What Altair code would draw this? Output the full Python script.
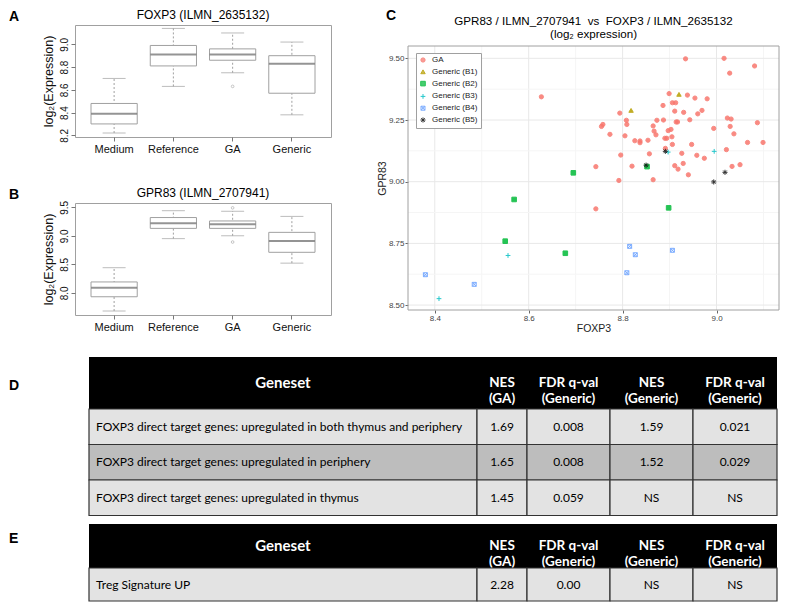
import altair as alt
import pandas as pd

FONT = "Liberation Sans"
TFONT = "Lato"

# ---------------- Panels A / B : box-plot summaries ----------------
groups = ["Medium", "Reference", "GA", "Generic"]

foxp3_lo = [8.22, 8.63, 8.75, 8.38]
foxp3_q1 = [8.30, 8.81, 8.86, 8.57]
foxp3_med = [8.39, 8.91, 8.91, 8.83]
foxp3_q3 = [8.48, 8.99, 8.96, 8.90]
foxp3_hi = [8.70, 9.14, 9.10, 9.02]
foxp3_out_group = ["GA"]
foxp3_out_value = [8.63]

gpr83_lo = [7.68, 8.95, 9.00, 8.52]
gpr83_q1 = [7.93, 9.13, 9.13, 8.71]
gpr83_med = [8.09, 9.22, 9.20, 8.91]
gpr83_q3 = [8.19, 9.32, 9.26, 9.06]
gpr83_hi = [8.44, 9.44, 9.43, 9.34]
gpr83_out_group = ["GA", "GA"]
gpr83_out_value = [9.49, 8.89]

# ---------------- Panel C : scatter ----------------
series = ["GA", "Generic (B1)", "Generic (B2)", "Generic (B3)", "Generic (B4)", "Generic (B5)"]

ga_foxp3 = [8.934, 9.016, 9.081, 9.028, 8.627, 8.899, 8.938, 8.954, 8.980, 8.906,
            8.913, 8.886, 8.969, 8.794, 8.911, 8.930, 8.960, 9.023, 9.031, 9.087,
            8.808, 8.809, 8.873, 8.887, 8.914, 8.917, 8.943, 8.758, 8.755, 8.865,
            8.994, 9.029, 8.867, 8.897, 8.903, 8.773, 8.805, 8.871, 9.037, 8.890,
            8.894, 8.905, 8.826, 8.837, 8.837, 8.854, 8.906, 8.947, 9.066, 9.099,
            8.891, 8.857, 8.796, 8.926, 8.958, 8.974, 9.021, 8.743, 8.820, 8.911,
            8.929, 8.918, 9.033, 9.050, 8.792, 8.865, 8.940, 8.743]
ga_gpr83 = [9.498, 9.500, 9.469, 9.440, 9.344, 9.357, 9.351, 9.339, 9.336, 9.320,
            9.320, 9.309, 9.289, 9.278, 9.286, 9.281, 9.275, 9.258, 9.254, 9.239,
            9.249, 9.232, 9.249, 9.250, 9.242, 9.242, 9.251, 9.232, 9.224, 9.226,
            9.216, 9.224, 9.205, 9.207, 9.212, 9.192, 9.186, 9.190, 9.194, 9.176,
            9.176, 9.182, 9.166, 9.165, 9.158, 9.168, 9.151, 9.151, 9.159, 9.159,
            9.135, 9.113, 9.108, 9.115, 9.107, 9.095, 9.130, 9.061, 9.063, 9.065,
            9.074, 9.051, 9.062, 9.069, 9.005, 9.008, 9.028, 8.890]
b1_foxp3 = [8.818, 8.920]
b1_gpr83 = [9.289, 9.354]
b2_foxp3 = [8.550, 8.569, 8.678, 8.695, 8.852, 8.898]
b2_gpr83 = [8.759, 8.928, 8.710, 9.036, 9.061, 8.894]
b3_foxp3 = [8.409, 8.556, 8.897, 8.995]
b3_gpr83 = [8.526, 8.701, 9.120, 9.123]
b4_foxp3 = [8.380, 8.484, 8.809, 8.815, 8.827, 8.906]
b4_gpr83 = [8.623, 8.584, 8.631, 8.738, 8.704, 8.722]
b5_foxp3 = [8.850, 8.891, 8.994, 9.018]
b5_gpr83 = [9.067, 9.123, 8.999, 9.038]

# axis ticks of panel C (major labelled, minor grid only)
c_x_major = [8.4, 8.6, 8.8, 9.0]
c_x_minor = [8.5, 8.7, 8.9, 9.1]
c_y_major = [8.5, 8.75, 9.0, 9.25, 9.5]
c_y_minor = [8.625, 8.875, 9.125, 9.375]
c_x_domain = [8.343, 9.133]
c_y_domain = [8.48, 9.55]

# ---------------- Panels D / E : GSEA tables ----------------
table_headers = ["Geneset", "NES\n(GA)", "FDR q-val\n(Generic)", "NES\n(Generic)", "FDR q-val\n(Generic)"]

d_geneset = ["FOXP3 direct target genes: upregulated in both thymus and periphery",
             "FOXP3 direct target genes: upregulated in periphery",
             "FOXP3 direct target genes: upregulated in thymus"]
d_nes_ga = ["1.69", "1.65", "1.45"]
d_fdr_ga = ["0.008", "0.008", "0.059"]
d_nes_generic = ["1.59", "1.52", "NS"]
d_fdr_generic = ["0.021", "0.029", "NS"]

e_geneset = ["Treg Signature UP"]
e_nes_ga = ["2.28"]
e_fdr_ga = ["0.00"]
e_nes_generic = ["NS"]
e_fdr_generic = ["NS"]

# ---------------- styles / layout ----------------
col_widths = [388, 50, 83, 83, 84]
table_inset = 14
d_row_fills = ["#e3e3e3", "#bdbdbd", "#e3e3e3"]
e_row_fills = ["#e3e3e3"]
sym_stroke = ["#F8766D", "#B79F00", "#00BA38", "#00BFC4", "#619CFF", "#111111"]
sym_fill = ["#F8766D", "#B79F00", "#00BA38", "transparent", "transparent", "transparent"]
sym_shape = ["circle", "triangle-up", "square",
             "M-1,0L1,0M0,-1L0,1",
             "M-0.8,-0.8L0.8,-0.8L0.8,0.8L-0.8,0.8ZM-0.8,-0.8L0.8,0.8M-0.8,0.8L0.8,-0.8",
             "M-1,0L1,0M0,-1L0,1M-0.7,-0.7L0.7,0.7M-0.7,0.7L0.7,-0.7"]
sym_size = [18, 26, 18, 50, 30, 45]
C_W, C_H, C_TOP = 371, 264, 21


def text_layer(text, dx, dy, align="left", baseline="top", size=14, weight="bold", line_height=None):
    props = dict(font=FONT, fontSize=size, fontWeight=weight, align=align, baseline=baseline,
                 color="black")
    if line_height is not None:
        props.update(lineBreak="\n", lineHeight=line_height)
    return alt.Chart(pd.DataFrame({"t": [text]})).mark_text(**props).encode(
        text="t:N", x=alt.value(dx), y=alt.value(dy))


def box_panel(title, lo, q1, med, q3, hi, out_g, out_v, ydomain, yticks, letter):
    stats = pd.DataFrame({"group": groups, "lo": lo, "q1": q1, "med": med, "q3": q3, "hi": hi})
    outl = pd.DataFrame({"group": out_g, "value": out_v})
    xax = alt.Axis(labelAngle=0, labelFontSize=11, labelColor="#111", labelFont=FONT,
                   tickColor="#777", tickSize=4, labelPadding=2, domain=False, grid=False)
    xs = alt.Scale(paddingInner=0, paddingOuter=0.16)

    def X():
        return alt.X("group:N", sort=groups, title=None, scale=xs, axis=xax)

    ys = alt.Scale(domain=ydomain, nice=False, zero=False)
    yax = alt.Axis(values=yticks, format=".1f", labelAngle=270, labelAlign="center",
                   labelBaseline="bottom", labelFontSize=10, labelColor="#111", labelFont=FONT,
                   tickColor="#777", tickSize=4, labelPadding=2, domain=False, grid=False,
                   title="log\u2082(Expression)", titleFontSize=12.5, titleFontWeight="normal",
                   titleFont=FONT, titleColor="#111", titlePadding=4)

    def Y(f):
        return alt.Y(f, scale=ys, axis=yax)

    base = alt.Chart(stats)
    whisk = base.mark_rule(color="#a0a0a0", strokeDash=[2, 2], strokeWidth=1).encode(
        x=X(), y=Y("lo:Q"), y2=alt.Y2("hi"))
    cap_lo = base.mark_tick(orient="horizontal", size=23, thickness=1, color="#a0a0a0").encode(
        x=X(), y=Y("lo:Q"))
    cap_hi = base.mark_tick(orient="horizontal", size=23, thickness=1, color="#a0a0a0").encode(
        x=X(), y=Y("hi:Q"))
    box = base.mark_bar(width=alt.RelativeBandSize(0.78), fill="white", stroke="#a0a0a0",
                        strokeWidth=1).encode(x=X(), y=Y("q1:Q"), y2=alt.Y2("q3"))
    mid = base.mark_tick(orient="horizontal", size=46, thickness=2, color="#666").encode(
        x=X(), y=Y("med:Q"))
    pts = alt.Chart(outl).mark_point(shape="circle", size=7, filled=False, color="#999",
                                     strokeWidth=0.8).encode(x=X(), y=Y("value:Q"))
    return alt.layer(
        whisk, cap_lo, cap_hi, box, mid, pts,
        text_layer(letter, -66, -15),
        text_layer(title, 128, -10, align="center", baseline="middle", size=12, weight="normal"),
    ).properties(width=256, height=112, view=alt.ViewBackground(stroke="#a0a0a0", strokeWidth=1))


panel_a = box_panel("FOXP3 (ILMN_2635132)", foxp3_lo, foxp3_q1, foxp3_med, foxp3_q3, foxp3_hi,
                    foxp3_out_group, foxp3_out_value, [8.185, 9.17], [8.2, 8.4, 8.6, 8.8, 9.0], "A")
panel_b = box_panel("GPR83 (ILMN_2707941)", gpr83_lo, gpr83_q1, gpr83_med, gpr83_q3, gpr83_hi,
                    gpr83_out_group, gpr83_out_value, [7.61, 9.575], [8.0, 8.5, 9.0, 9.5], "B")

# ---------------- Panel C ----------------
frames = []
for name, xs_, ys_ in zip(series,
                          [ga_foxp3, b1_foxp3, b2_foxp3, b3_foxp3, b4_foxp3, b5_foxp3],
                          [ga_gpr83, b1_gpr83, b2_gpr83, b3_gpr83, b4_gpr83, b5_gpr83]):
    frames.append(pd.DataFrame({"series": name, "FOXP3": xs_, "GPR83": ys_}))
scatter_df = pd.concat(frames, ignore_index=True)
scatter_df["ord"] = scatter_df["series"].map({s: i for i, s in enumerate(series)})

cxs = alt.Scale(domain=c_x_domain, nice=False, zero=False)
cys = alt.Scale(domain=c_y_domain, nice=False, zero=False, range=[C_H + C_TOP, C_TOP])


def c_axis(title, values, fmt):
    return alt.Axis(values=values, format=fmt, labelOverlap=False, grid=False,
                    tickSize=3, tickColor="#666", labelFontSize=8, labelColor="#444",
                    labelFont=FONT, labelPadding=1, domain=False, title=title,
                    titleFont=FONT, titleFontSize=10.5, titleFontWeight="normal",
                    titleColor="#222", titlePadding=1)


CX = lambda f: alt.X(f, scale=cxs, axis=c_axis("FOXP3", c_x_major, ".1f"))
CY = lambda f: alt.Y(f, scale=cys, axis=c_axis("GPR83", c_y_major, ".2f"))

vgrid = pd.DataFrame({"v": c_x_minor + c_x_major,
                      "kind": ["minor"] * len(c_x_minor) + ["major"] * len(c_x_major),
                      "lo": c_y_domain[0], "hi": c_y_domain[1]})
hgrid = pd.DataFrame({"v": c_y_minor + c_y_major,
                      "kind": ["minor"] * len(c_y_minor) + ["major"] * len(c_y_major),
                      "lo": c_x_domain[0], "hi": c_x_domain[1]})
grid_color = alt.Color("kind:N", scale=alt.Scale(domain=["minor", "major"], range=["#f5f5f5", "#e8e8e8"]),
                       legend=None)
vgrid_layer = alt.Chart(vgrid).mark_rule(strokeWidth=1).encode(
    x=CX("v:Q"), y=CY("lo:Q"), y2="hi", color=grid_color)
hgrid_layer = alt.Chart(hgrid).mark_rule(strokeWidth=1).encode(
    y=CY("v:Q"), x=CX("lo:Q"), x2="hi", color=grid_color)
frame_layer = alt.Chart(pd.DataFrame({"x0": [c_x_domain[0]], "x1": [c_x_domain[1]],
                                      "y0": [c_y_domain[0]], "y1": [c_y_domain[1]]})).mark_rect(
    fill="transparent", stroke="#a0a0a0", strokeWidth=1).encode(
    x=CX("x0:Q"), x2="x1", y=CY("y0:Q"), y2="y1")

leg = alt.Legend(title=None, orient="none", legendX=8, legendY=C_TOP + 7, padding=3,
                 fillColor="white", strokeColor="#a0a0a0", labelFont=FONT, labelFontSize=8,
                 labelColor="#222", rowPadding=2.8, labelOffset=5, symbolStrokeWidth=1)

points_layer = alt.Chart(scatter_df).mark_point(opacity=0.85, strokeWidth=1).encode(
    x=CX("FOXP3:Q"), y=CY("GPR83:Q"),
    fill=alt.Fill("series:N", scale=alt.Scale(domain=series, range=sym_fill), legend=leg),
    stroke=alt.Stroke("series:N", scale=alt.Scale(domain=series, range=sym_stroke), legend=leg),
    shape=alt.Shape("series:N", scale=alt.Scale(domain=series, range=sym_shape), legend=leg),
    size=alt.Size("series:N", scale=alt.Scale(domain=series, range=sym_size), legend=leg),
    order=alt.Order("ord:Q"),
)

panel_c = alt.layer(
    vgrid_layer, hgrid_layer, frame_layer, points_layer,
    text_layer("C", -22, C_TOP - 37),
    text_layer("GPR83 / ILMN_2707941\u00a0\u00a0vs\u00a0\u00a0FOXP3 / ILMN_2635132\n(log\u2082 expression)",
               C_W / 2, C_TOP - 24, align="center", baseline="middle", size=11.6, weight="normal",
               line_height=13),
).properties(width=C_W, height=C_H + C_TOP).resolve_scale(color="independent")


def table_panel(columns, row_fills, header_h, row_h, letter, letter_dy):
    edges = [0]
    for w in col_widths:
        edges.append(edges[-1] + w)
    total_w = edges[-1]
    n = len(columns[0])
    total_h = header_h + n * row_h
    xs = alt.Scale(domain=[0, total_w], range=[table_inset, total_w + table_inset], nice=False, zero=False)
    ys = alt.Scale(domain=[0, total_h], nice=False, zero=False, reverse=True)

    head = pd.DataFrame({"x0": [0], "x1": [total_w], "y0": [0], "y1": [header_h]})
    head_txt = pd.DataFrame({"xc": [(edges[i] + edges[i + 1]) / 2 for i in range(5)],
                             "yc": [header_h / 2] * 5, "t": table_headers, "col": list(range(5))})
    cells = []
    for r in range(n):
        for c in range(5):
            cells.append({"x0": edges[c], "x1": edges[c + 1], "xc": (edges[c] + edges[c + 1]) / 2,
                          "y0": header_h + r * row_h, "y1": header_h + (r + 1) * row_h,
                          "yc": header_h + (r + 0.5) * row_h, "fill": row_fills[r],
                          "t": columns[c][r], "col": c})
    cells = pd.DataFrame(cells)

    def X(f):
        return alt.X(f, scale=xs, axis=None)

    def Y(f):
        return alt.Y(f, scale=ys, axis=None)

    head_rect = alt.Chart(head).mark_rect(color="black").encode(
        x=X("x0:Q"), x2="x1", y=Y("y0:Q"), y2="y1")
    head_t0 = alt.Chart(head_txt).transform_filter("datum.col == 0").mark_text(
        font=TFONT, fontWeight="bold", fontSize=15, color="white", align="center",
        baseline="middle").encode(x=X("xc:Q"), y=Y("yc:Q"), text="t:N")
    head_t1 = alt.Chart(head_txt).transform_filter("datum.col > 0").mark_text(
        font=TFONT, fontWeight="bold", fontSize=13.5, color="white", align="center",
        baseline="middle", lineBreak="\n", lineHeight=16).encode(x=X("xc:Q"), y=Y("yc:Q"), text="t:N")
    body_rect = alt.Chart(cells).mark_rect(stroke="#333", strokeWidth=1.2).encode(
        x=X("x0:Q"), x2="x1", y=Y("y0:Q"), y2="y1", fill=alt.Fill("fill:N", scale=None))
    body_t0 = alt.Chart(cells).transform_filter("datum.col == 0").mark_text(
        font=TFONT, fontSize=12, color="black", align="left", baseline="middle", dx=7).encode(
        x=X("x0:Q"), y=Y("yc:Q"), text="t:N")
    body_t1 = alt.Chart(cells).transform_filter("datum.col > 0").mark_text(
        font=TFONT, fontSize=12, color="black", align="center", baseline="middle").encode(
        x=X("xc:Q"), y=Y("yc:Q"), text="t:N")
    return alt.layer(head_rect, head_t0, head_t1, body_rect, body_t0, body_t1,
                     text_layer(letter, table_inset - 80, letter_dy)).properties(
        width=total_w + table_inset, height=total_h)


table_d = table_panel([d_geneset, d_nes_ga, d_fdr_ga, d_nes_generic, d_fdr_generic],
                      d_row_fills, 52, 35.5, "D", 22)
table_e = table_panel([e_geneset, e_nes_ga, e_fdr_ga, e_nes_generic, e_fdr_generic],
                      e_row_fills, 44, 33, "E", 8)

indep = dict(fill="independent", stroke="independent", shape="independent", size="independent",
             color="independent")

left_col = alt.vconcat(panel_a, panel_b, spacing=31).resolve_scale(**indep)
top_row = alt.hconcat(left_col, panel_c, spacing=45).resolve_scale(**indep)
tables = alt.vconcat(table_d, table_e, spacing=7).resolve_scale(**indep)

chart = (alt.vconcat(top_row, tables, spacing=23)
         .resolve_scale(**indep)
         .properties(padding=0, background="white")
         .configure_view(stroke=None))

chart.save("out.html", embed_options={"renderer": "svg", "actions": False})
